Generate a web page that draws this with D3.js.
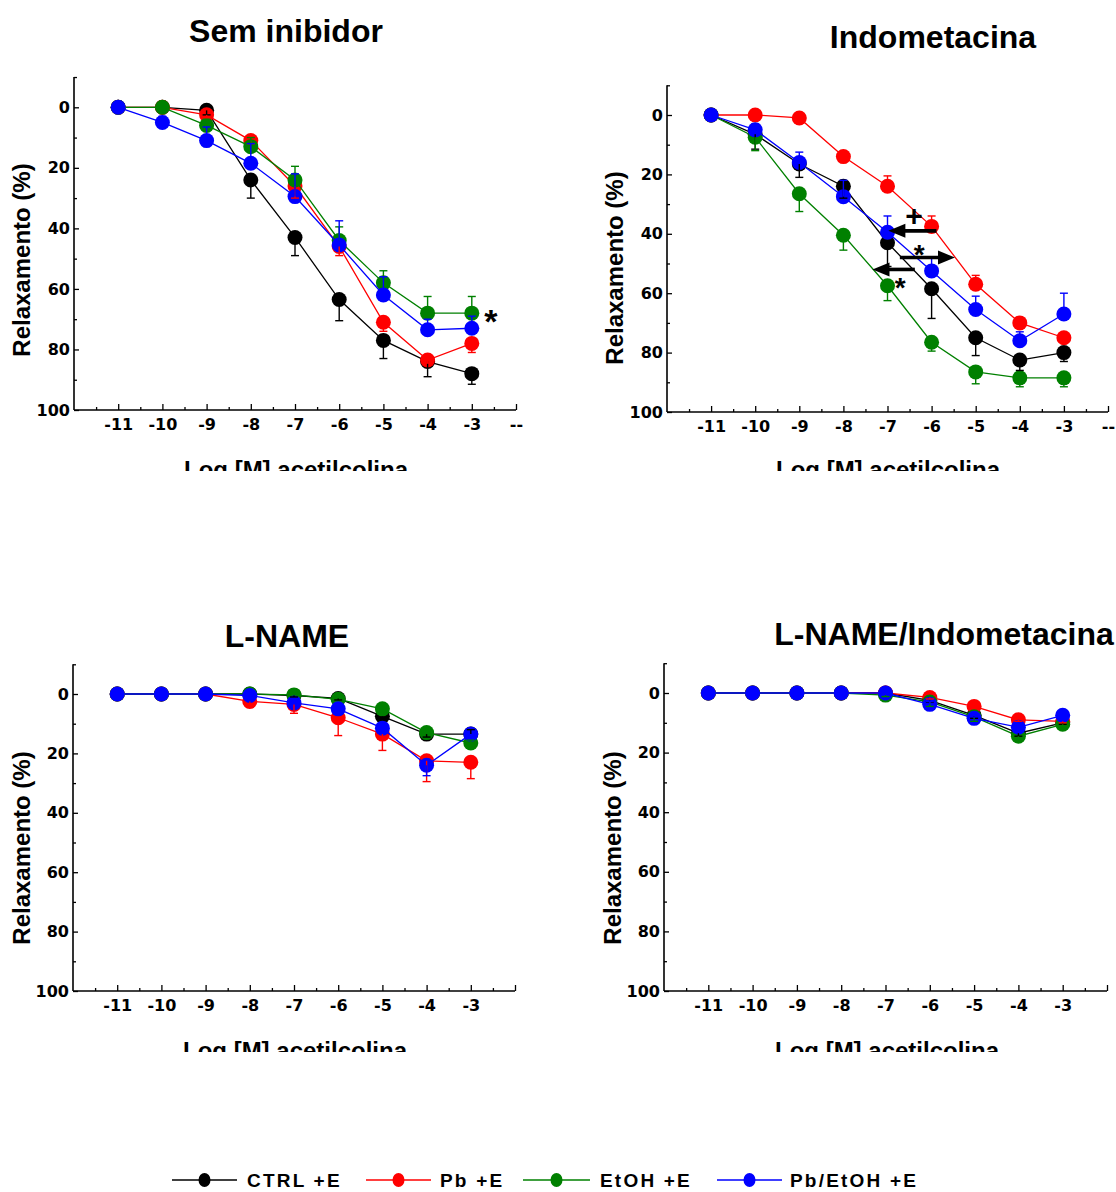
<!DOCTYPE html>
<html><head><meta charset="utf-8">
<script src="https://cdn.jsdelivr.net/npm/d3@7"></script>
<style>
body{margin:0;background:#fff}
svg{display:block}
text{font-family:"Liberation Sans",Arial,Helvetica,sans-serif;font-weight:bold;fill:#000}
</style>
</head><body>
<svg id="chart" width="1116" height="1192"></svg>
<script>
// ---------- data ----------
const concentrations = [-11, -10, -9, -8, -7, -6, -5, -4, -3];
const xTickLabels = ["-11", "-10", "-9", "-8", "-7", "-6", "-5", "-4", "-3"];
const yTickValues = [0, 20, 40, 60, 80, 100];
const seriesNames = ["CTRL +E", "Pb +E", "EtOH +E", "Pb/EtOH +E"];
const panelTitles = ["Sem inibidor", "Indometacina", "L-NAME", "L-NAME/Indometacina"];
const xAxisTitle = "Log [M] acetilcolina";
const yAxisTitle = "Relaxamento (%)";

// means per series (CTRL, Pb, EtOH, Pb/EtOH)
const semInibidorMeans = [
  [0, 0, 1, 24, 43, 63.5, 77, 84, 88],
  [0, 0, 2.5, 11, 26, 46, 71, 83.5, 78],
  [0, 0, 6, 13, 24, 44, 58, 68, 68],
  [0, 5, 11, 18.5, 29.5, 45.5, 62, 73.5, 73]
];
// signed SEM bar (positive = bar drawn toward higher values)
const semInibidorErrors = [
  [0, 0, 1.5, 6, 6, 7, 6, 5, 3.5],
  [0, 0, 1, 1, 4, 3, 3, 1, 3],
  [0, 0, -2, -3, -4.5, -4.5, -4, -5.5, -5.5],
  [0, -2, -4.5, -6.5, -7.5, -8, -6, -3.5, -4]
];

const indometacinaMeans = [
  [0, 6.5, 16.5, 24, 43, 58.5, 75, 82.5, 80],
  [0, 0, 1, 14, 24, 37.5, 57, 70, 75],
  [0, 7.5, 26.5, 40.5, 57.5, 76.5, 86.5, 88.5, 88.5],
  [0, 5, 16, 27.5, 39.5, 52.5, 65.5, 76, 67]
];
const indometacinaErrors = [
  [0, 5, 4.5, 4, 8, 10, 6, 3.5, 3],
  [0, 0, 0, 0, -3.5, -3.5, -3, -1, 0],
  [0, 4.5, 6, 5, 5, 3, 4, 3, 3],
  [0, -2, -3.5, -5.5, -5.5, -4.5, -4.5, -3, -7]
];

const lnameMeans = [
  [0, 0, 0, 0, 0.5, 1.5, 7.5, 13.5, 13.5],
  [0, 0, 0, 2.5, 3.5, 8, 13.5, 22.5, 23],
  [0, 0, 0, 0, 0.3, 1.8, 5, 13, 16.5],
  [0, 0, 0, 0.5, 3, 5, 11.5, 24, 13.5]
];
const lnameErrors = [
  [0, 0, 0, 0, 0.5, 0.5, 1, 1, -1.5],
  [0, 0, 0, 2, 3, 6, 5.5, 7, 5.5],
  [0, 0, 0, 0, 0, 0, 0, -0.5, -1],
  [0, 0, 0, 0, 0, 0, 0, 3.5, 1.5]
];

const lnameIndoMeans = [
  [0, 0, 0, 0, 0, 2.5, 7.5, 13.5, 10],
  [0, 0, 0, 0, 0, 1.5, 4.5, 9, 9.5],
  [0, 0, 0, 0, 0.7, 3, 8, 14.5, 10.5],
  [0, 0, 0, 0, 0, 3.8, 8.5, 11.5, 7.5]
];
const lnameIndoErrors = [
  [0, 0, 0, 0, 0, 0.5, 1, 1, 0.5],
  [0, 0, 0, 0, 0, 0.5, 0.5, 0.5, 0.5],
  [0, 0, 0, 0, 0.5, 1.5, 1.5, 1, 1],
  [0, 0, 0, 0, 0, -1, -1, -1.5, -1]
];

// significance annotations (data units)
const semInibidorMarks = [{ text: "*", x: -2.57, y: 68, size: 34 }];
const indometacinaArrows = [
  { from: -5.89, to: -6.98, y: 39 },
  { from: -6.72, to: -5.47, y: 48 },
  { from: -6.38, to: -7.34, y: 52 }
];
const indometacinaMarks = [
  { text: "+", x: -6.40, y: 34, size: 30 },
  { text: "*", x: -6.28, y: 44.8, size: 28 },
  { text: "*", x: -6.71, y: 56, size: 28 }
];

// ---------- styles / layout ----------
const colors = ["#000000", "#ff0000", "#008000", "#0000ff"];
const tickFont = '"DejaVu Sans",Verdana,sans-serif';
const svg = d3.select("#chart");

const panels = [
  { title: panelTitles[0], means: semInibidorMeans, errs: semInibidorErrors, marks: semInibidorMarks, arrows: [],
    xr: [74, 516], y0: 107.3, y100: 410, titleX: 286, titleY: 41.5, ylabX: 21, ylabY: 260,
    xlabX: 296, xlabY: 478, clipY: 471, endLabel: true },
  { title: panelTitles[1], means: indometacinaMeans, errs: indometacinaErrors, marks: indometacinaMarks, arrows: indometacinaArrows,
    xr: [667, 1108], y0: 115, y100: 412, titleX: 933, titleY: 47.5, ylabX: 614, ylabY: 268,
    xlabX: 888, xlabY: 478, clipY: 471, endLabel: true },
  { title: panelTitles[2], means: lnameMeans, errs: lnameErrors, marks: [], arrows: [],
    xr: [73, 515], y0: 694, y100: 991, titleX: 287, titleY: 646.5, ylabX: 21, ylabY: 848,
    xlabX: 295, xlabY: 1059, clipY: 1052, endLabel: false },
  { title: panelTitles[3], means: lnameIndoMeans, errs: lnameIndoErrors, marks: [], arrows: [],
    xr: [664, 1107], y0: 693, y100: 991, titleX: 944, titleY: 645, ylabX: 612, ylabY: 848,
    xlabX: 887, xlabY: 1059, clipY: 1052, endLabel: false }
];

const defs = svg.append("defs");

panels.forEach((p, pi) => {
  const g = svg.append("g");
  const x = d3.scaleLinear().domain([-12, -2]).range(p.xr);
  const y = d3.scaleLinear().domain([0, 100]).range([p.y0, p.y100]);
  const yTop = y(-10);

  // title
  g.append("text").attr("x", p.titleX).attr("y", p.titleY).attr("text-anchor", "middle")
    .style("font-size", "32px").text(p.title);

  // y axis (ticks point inward)
  const yAxis = d3.axisLeft(y).tickValues(yTickValues).tickSize(-5).tickPadding(4).tickSizeOuter(0);
  const yMinor = d3.axisLeft(y).tickValues([-10, 10, 30, 50, 70, 90]).tickSize(-3).tickFormat("").tickSizeOuter(0);
  const gy = g.append("g").attr("transform", `translate(${x(-12)},0)`).call(yAxis);
  gy.select(".domain").remove();
  const gym = g.append("g").attr("transform", `translate(${x(-12)},0)`).call(yMinor);
  gym.select(".domain").remove();
  g.append("line").attr("x1", x(-12)).attr("x2", x(-12)).attr("y1", yTop).attr("y2", y(100))
    .attr("stroke", "#000").attr("stroke-width", 1.6);
  gy.selectAll("text").style("font-size", "16px").style("font-family", tickFont).style("font-weight", "bold");
  [gy, gym].forEach(a => a.selectAll("line").attr("stroke-width", 1.3));

  // x axis (ticks point inward)
  const xAxis = d3.axisBottom(x).tickValues(concentrations.concat([-2])).tickSize(-6).tickPadding(8.5).tickSizeOuter(0)
    .tickFormat(d => d === -2 ? (p.endLabel ? "--" : "") : xTickLabels[concentrations.indexOf(d)]);
  const xMinorVals = d3.range(-11.5, -2, 1);
  const xMinor = d3.axisBottom(x).tickValues(xMinorVals).tickSize(-3).tickFormat("").tickSizeOuter(0);
  const gx = g.append("g").attr("transform", `translate(0,${y(100)})`).call(xAxis);
  gx.select(".domain").remove();
  const gxm = g.append("g").attr("transform", `translate(0,${y(100)})`).call(xMinor);
  gxm.select(".domain").remove();
  g.append("line").attr("x1", x(-12)).attr("x2", x(-2)).attr("y1", y(100)).attr("y2", y(100))
    .attr("stroke", "#000").attr("stroke-width", 1.6);
  gx.selectAll("text").style("font-size", "16px").style("font-family", tickFont).style("font-weight", "bold");
  [gx, gxm].forEach(a => a.selectAll("line").attr("stroke-width", 1.3));

  // y label
  g.append("text").attr("transform", `translate(${p.ylabX},${p.ylabY}) rotate(-90)`)
    .attr("text-anchor", "middle").attr("dy", "0.36em").style("font-size", "24px").text(yAxisTitle);

  // x label (clipped at bottom, as in the source)
  const cid = "clipx" + pi;
  defs.append("clipPath").attr("id", cid).append("rect")
    .attr("x", 0).attr("y", p.clipY - 60).attr("width", 1116).attr("height", 60);
  g.append("text").attr("x", p.xlabX).attr("y", p.xlabY).attr("text-anchor", "middle")
    .attr("clip-path", `url(#${cid})`).style("font-size", "24px").text(xAxisTitle);

  // series
  const line = d3.line().x((d, i) => x(concentrations[i])).y(d => y(d));
  p.means.forEach((vals, si) => {
    g.append("path").attr("d", line(vals)).attr("fill", "none")
      .attr("stroke", colors[si]).attr("stroke-width", 1.3);
    g.selectAll(null).data(vals).enter().append("circle")
      .attr("cx", (d, i) => x(concentrations[i])).attr("cy", d => y(d)).attr("r", 7.5)
      .attr("fill", colors[si]);
  });
  // error bars on top
  p.errs.forEach((errs, si) => {
    errs.forEach((e, i) => {
      if (!e) return;
      const cx = x(concentrations[i]);
      const v = p.means[si][i];
      const ye = y(v + e);
      g.append("line").attr("x1", cx).attr("x2", cx).attr("y1", y(v)).attr("y2", ye)
        .attr("stroke", colors[si]).attr("stroke-width", 1.4);
      g.append("line").attr("x1", cx - 4).attr("x2", cx + 4).attr("y1", ye).attr("y2", ye)
        .attr("stroke", colors[si]).attr("stroke-width", 1.4);
    });
  });

  // arrows
  p.arrows.forEach(a => {
    const x1 = x(a.from), x2 = x(a.to), yy = y(a.y);
    const dir = Math.sign(x2 - x1);
    const headL = 17, headH = 7;
    g.append("line").attr("x1", x1).attr("x2", x2 - dir * headL + dir * 1).attr("y1", yy).attr("y2", yy)
      .attr("stroke", "#000").attr("stroke-width", 3.6);
    g.append("path").attr("d", `M${x2},${yy} L${x2 - dir * headL},${yy - headH} L${x2 - dir * headL},${yy + headH} Z`)
      .attr("fill", "#000");
  });
  // marks
  p.marks.forEach(m => {
    g.append("text").attr("x", x(m.x)).attr("y", y(m.y)).attr("text-anchor", "middle")
      .attr("dy", m.text === "*" ? "0.57em" : "0.35em")
      .style("font-size", m.size + "px").text(m.text);
  });
});

// legend
const legendItems = [
  { x1: 172, x2: 237, tx: 247 },
  { x1: 366, x2: 431, tx: 440 },
  { x1: 523, x2: 590, tx: 600 },
  { x1: 717, x2: 782, tx: 790 }
];
const lg = svg.append("g");
seriesNames.forEach((name, i) => {
  const it = legendItems[i];
  lg.append("line").attr("x1", it.x1).attr("x2", it.x2).attr("y1", 1180).attr("y2", 1180)
    .attr("stroke", colors[i]).attr("stroke-width", 1.6);
  lg.append("ellipse").attr("cx", (it.x1 + it.x2) / 2).attr("cy", 1180).attr("rx", 6).attr("ry", 7).attr("fill", colors[i]);
  lg.append("text").attr("x", it.tx).attr("y", 1187).style("font-size", "19px")
    .style("letter-spacing", "2.2px").text(name);
});
</script>
</body></html>
